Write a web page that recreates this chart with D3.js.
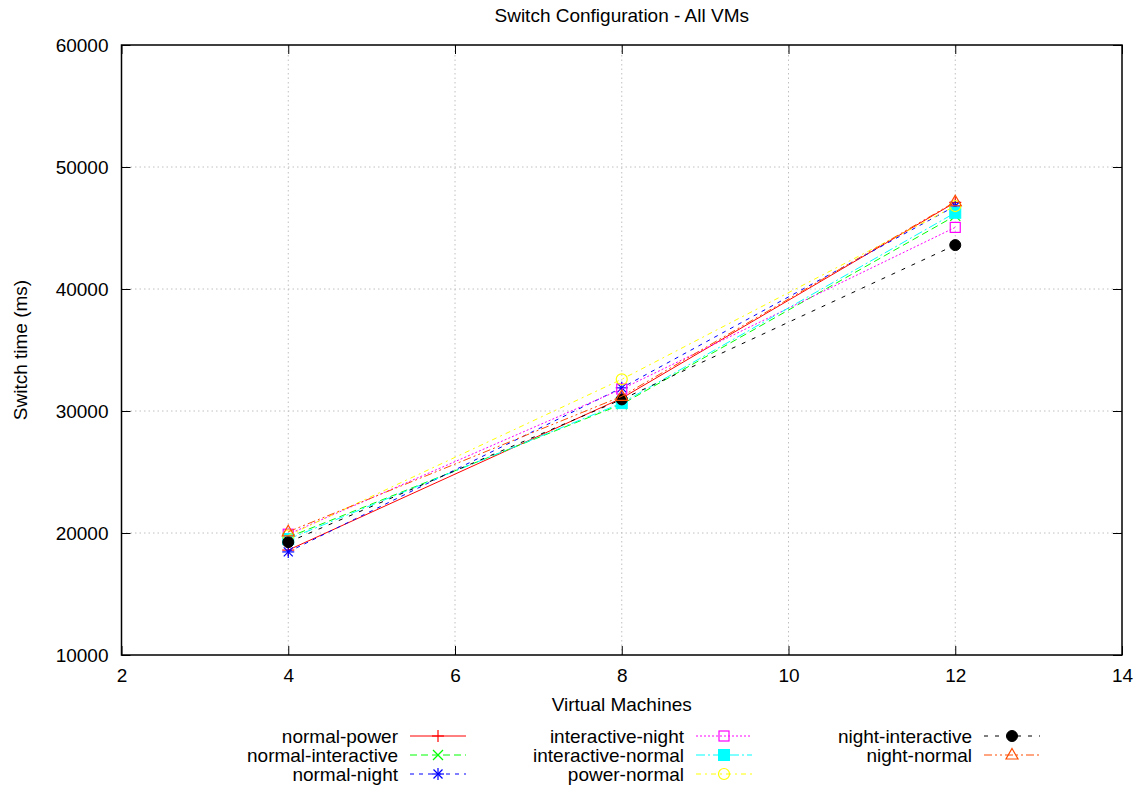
<!DOCTYPE html>
<html>
<head>
<meta charset="utf-8">
<script src="https://cdn.jsdelivr.net/npm/d3@7"></script>
<style>
  html, body { margin: 0; padding: 0; background: #fff; }
  svg { display: block; }
  text { font-family: "Liberation Sans", Arial, Helvetica, sans-serif; fill: #000; }
</style>
</head>
<body>
<svg id="chart" width="1139" height="787"></svg>
<script>
// ---- data ----
const vms = [4, 8, 12];
const seriesNames = ["normal-power", "normal-interactive", "normal-night",
  "interactive-night", "interactive-normal", "power-normal",
  "night-interactive", "night-normal"];
const normalPower       = [18600, 31050, 47100];
const normalInteractive = [19650, 30550, 46000];
const normalNight       = [18450, 31900, 46800];
const interactiveNight  = [19900, 31800, 45050];
const interactiveNormal = [19500, 30650, 46250];
const powerNormal       = [19800, 32600, 46800];
const nightInteractive  = [19250, 30950, 43600];
const nightNormal       = [20100, 31200, 47150];
const xTicks = [2, 4, 6, 8, 10, 12, 14];
const yTicks = [10000, 20000, 30000, 40000, 50000, 60000];
const titleText = "Switch Configuration - All VMs";
const xLabelText = "Virtual Machines";
const yLabelText = "Switch time (ms)";

const seriesValues = [normalPower, normalInteractive, normalNight, interactiveNight,
  interactiveNormal, powerNormal, nightInteractive, nightNormal];

// ---- styles ----
const styles = [
  { color: "#ff0000", dash: null,           marker: "plus" },
  { color: "#00ff00", dash: "7,4",          marker: "cross" },
  { color: "#0000ff", dash: "4,5",          marker: "star" },
  { color: "#ff00ff", dash: "2,2",          marker: "box" },
  { color: "#00ffff", dash: "9,3,2,3",      marker: "fbox" },
  { color: "#ffff00", dash: "5,4,2,4",      marker: "circle" },
  { color: "#000000", dash: "4,7",          marker: "fcircle" },
  { color: "#ff4d00", dash: "8,3,2,3,2,3",  marker: "triangle" }
];

const svg = d3.select("#chart");
const L = 121.5, R = 1122, T = 45, B = 655;
const FS = 19;

const x = d3.scaleLinear().domain([2, 14]).range([L, R]);
const y = d3.scaleLinear().domain([10000, 60000]).range([B, T]);

// grid
const grid = svg.append("g");
xTicks.slice(1, -1).forEach(t => {
  grid.append("line").attr("x1", x(t)).attr("x2", x(t)).attr("y1", B).attr("y2", T)
    .attr("stroke", "#c0c0c0").attr("stroke-width", 1).attr("stroke-dasharray", "1.5,3");
});
yTicks.slice(1, -1).forEach(t => {
  grid.append("line").attr("x1", L).attr("x2", R).attr("y1", y(t)).attr("y2", y(t))
    .attr("stroke", "#c0c0c0").attr("stroke-width", 1).attr("stroke-dasharray", "1.5,3");
});

// axes (gnuplot-like ticks inward, mirrored)
const tickLen = 9;
const axB = d3.axisBottom(x).tickValues(xTicks).tickSize(-tickLen).tickPadding(tickLen + 5).tickFormat(d3.format("d"));
const axT = d3.axisTop(x).tickValues(xTicks).tickSize(-tickLen).tickFormat("");
const axL = d3.axisLeft(y).tickValues(yTicks).tickSize(-tickLen).tickPadding(tickLen + 4).tickFormat(d3.format("d"));
const axR = d3.axisRight(y).tickValues(yTicks).tickSize(-tickLen).tickFormat("");

function styleAxis(g) {
  g.select(".domain").remove();
  g.selectAll(".tick line").attr("stroke", "#000").attr("stroke-width", 1);
  g.selectAll(".tick text").style("font-size", FS + "px")
    .style("font-family", '"Liberation Sans", Arial, Helvetica, sans-serif').attr("fill", "#000");
}
svg.append("g").attr("transform", `translate(0,${B})`).call(axB).call(styleAxis);
svg.append("g").attr("transform", `translate(0,${T})`).call(axT).call(styleAxis);
svg.append("g").attr("transform", `translate(${L},0)`).call(axL).call(styleAxis);
svg.append("g").attr("transform", `translate(${R},0)`).call(axR).call(styleAxis);

// border
svg.append("rect").attr("x", L).attr("y", T).attr("width", R - L).attr("height", B - T)
  .attr("fill", "none").attr("stroke", "#000").attr("stroke-width", 1.5);

// markers
function drawMarker(g, type, cx, cy, color) {
  const s = 6;
  const m = g.append("g").attr("transform", `translate(${cx},${cy})`);
  const ln = (x1, y1, x2, y2) => m.append("line").attr("x1", x1).attr("y1", y1).attr("x2", x2).attr("y2", y2)
    .attr("stroke", color).attr("stroke-width", 1.2);
  if (type === "plus") { ln(-s, 0, s, 0); ln(0, -s, 0, s); }
  else if (type === "cross") { const k = 5; ln(-k, -k, k, k); ln(-k, k, k, -k); }
  else if (type === "star") { ln(-s, 0, s, 0); ln(0, -s, 0, s); const k = 4.5; ln(-k, -k, k, k); ln(-k, k, k, -k); }
  else if (type === "box") { m.append("rect").attr("x", -5).attr("y", -5).attr("width", 10).attr("height", 10)
    .attr("fill", "none").attr("stroke", color).attr("stroke-width", 1.2); }
  else if (type === "fbox") { m.append("rect").attr("x", -5.5).attr("y", -5.5).attr("width", 11).attr("height", 11)
    .attr("fill", color).attr("stroke", color).attr("stroke-width", 1); }
  else if (type === "circle") { m.append("circle").attr("r", 5.5).attr("fill", "none").attr("stroke", color).attr("stroke-width", 1.2); }
  else if (type === "fcircle") { m.append("circle").attr("r", 5.5).attr("fill", color).attr("stroke", color).attr("stroke-width", 1); }
  else if (type === "triangle") { m.append("path").attr("d", "M0,-6.5L6,4L-6,4Z")
    .attr("fill", "none").attr("stroke", color).attr("stroke-width", 1.2); }
}

// series
const line = d3.line().x((d, i) => x(vms[i])).y(d => y(d));
const plot = svg.append("g");
seriesValues.forEach((vals, si) => {
  const st = styles[si];
  const g = plot.append("g");
  g.append("path").attr("d", line(vals)).attr("fill", "none").attr("stroke", st.color)
    .attr("stroke-width", 1).attr("stroke-dasharray", st.dash);
  vals.forEach((v, i) => drawMarker(g, st.marker, x(vms[i]), y(v), st.color));
});

// title and labels
svg.append("text").attr("x", (L + R) / 2).attr("y", 22).attr("text-anchor", "middle")
  .style("font-size", FS + "px").text(titleText);
svg.append("text").attr("x", (L + R) / 2).attr("y", 711).attr("text-anchor", "middle")
  .style("font-size", FS + "px").text(xLabelText);
svg.append("text").attr("transform", `translate(27,${(T + B) / 2}) rotate(-90)`).attr("text-anchor", "middle")
  .style("font-size", FS + "px").text(yLabelText);

// legend
const colTextX = [398, 684, 972];
const rowY = [736, 755, 774];
const sampleGap = 12, sampleLen = 56;
const leg = svg.append("g");
seriesNames.forEach((name, i) => {
  const col = Math.floor(i / 3), row = i % 3;
  const tx = colTextX[col], ty = rowY[row];
  const st = styles[i];
  leg.append("text").attr("x", tx).attr("y", ty).attr("dy", "0.35em").attr("text-anchor", "end")
    .style("font-size", FS + "px").text(name);
  const x1 = tx + sampleGap, x2 = x1 + sampleLen;
  leg.append("line").attr("x1", x1).attr("x2", x2).attr("y1", ty).attr("y2", ty)
    .attr("stroke", st.color).attr("stroke-width", 1).attr("stroke-dasharray", st.dash);
  drawMarker(leg, st.marker, (x1 + x2) / 2, ty, st.color);
});
</script>
</body>
</html>
